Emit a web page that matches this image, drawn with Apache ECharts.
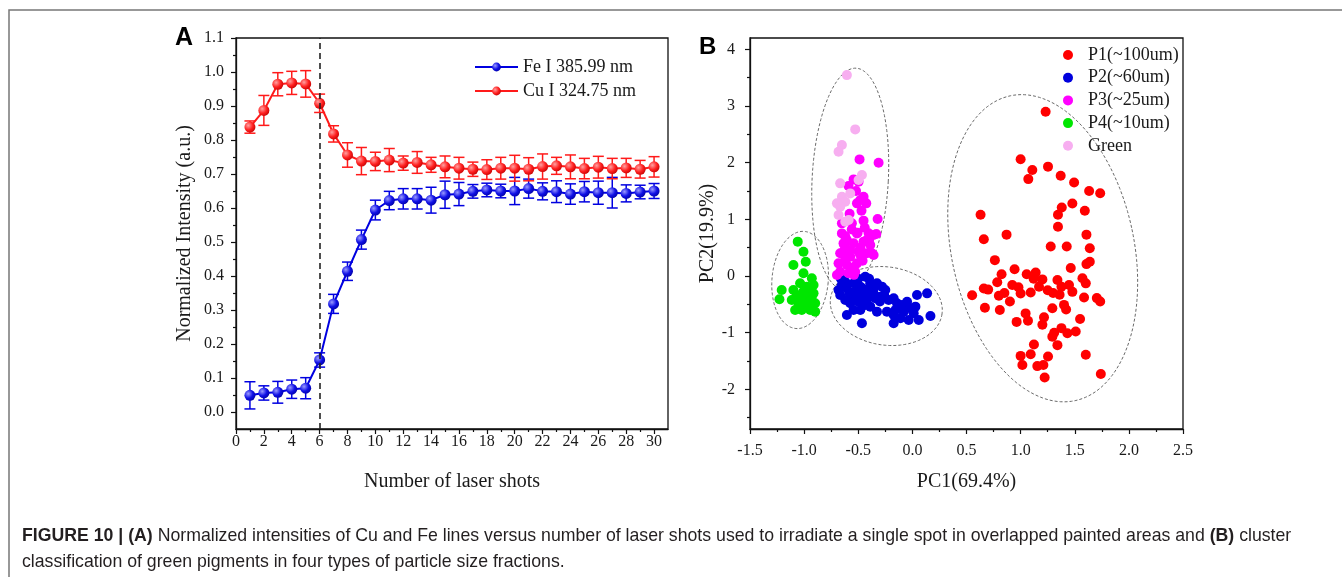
<!DOCTYPE html>
<html>
<head>
<meta charset="utf-8">
<title>Figure 10</title>
<script src="https://cdn.jsdelivr.net/npm/echarts@6/dist/echarts.min.js"></script>
<style>
  html, body { margin: 0; padding: 0; background: #fff; }
  #main { width: 1342px; height: 577px; }
</style>
</head>
<body>
<div id="main"></div>
<script>
// ---- panel A : normalized intensity vs number of laser shots ----
const shots = [1,2,3,4,5,6,7,8,9,10,11,12,13,14,15,16,17,18,19,20,21,22,23,24,25,26,27,28,29,30];
const feMean = [0.049,0.056,0.058,0.067,0.070,0.153,0.318,0.414,0.507,0.594,0.622,0.627,0.627,0.623,0.639,
                0.641,0.649,0.653,0.650,0.650,0.657,0.649,0.648,0.641,0.648,0.645,0.645,0.643,0.647,0.650];
const feErr  = [0.040,0.021,0.032,0.027,0.031,0.021,0.028,0.027,0.028,0.029,0.027,0.030,0.030,0.038,0.040,
                0.034,0.020,0.020,0.020,0.040,0.028,0.025,0.032,0.030,0.030,0.034,0.045,0.025,0.020,0.022];
const cuMean = [0.838,0.887,0.964,0.968,0.965,0.908,0.818,0.756,0.738,0.737,0.741,0.732,0.734,0.727,0.721,
                0.717,0.714,0.713,0.717,0.717,0.714,0.722,0.724,0.721,0.716,0.720,0.716,0.718,0.714,0.721];
const cuErr  = [0.018,0.044,0.034,0.034,0.039,0.027,0.024,0.036,0.040,0.027,0.034,0.021,0.032,0.022,0.032,
                0.032,0.021,0.029,0.032,0.038,0.034,0.037,0.025,0.035,0.030,0.032,0.030,0.028,0.026,0.030];
const dashedShot = 6;

// tick positions panel A
const shotTicks = [0,2,4,6,8,10,12,14,16,18,20,22,24,26,28,30];
const shotMinor = [1,3,5,7,9,11,13,15,17,19,21,23,25,27,29];
const intTicks = [0,0.1,0.2,0.3,0.4,0.5,0.6,0.7,0.8,0.9,1.0,1.1];
const intMinor = [0.05,0.15,0.25,0.35,0.45,0.55,0.65,0.75,0.85,0.95,1.05];

// ---- panel B : PCA scores ----
const p1Points = [[1.231,2.90],[1.00,2.06],[1.108,1.87],[1.071,1.71],[1.253,1.93],[1.370,1.77],[1.494,1.65],[1.633,1.50],
  [1.735,1.46],[0.630,1.08],[1.380,1.21],[1.478,1.28],[1.593,1.15],[1.345,1.08],[1.345,0.87],[0.660,0.65],[0.870,0.73],
  [1.278,0.52],[1.426,0.52],[1.608,0.73],[1.639,0.49],[1.608,0.21],[1.639,0.25],[0.762,0.28],[1.463,0.14],[0.944,0.12],
  [0.824,0.03],[1.056,0.03],[1.139,0.06],[1.201,-0.06],[0.784,-0.11],[0.923,-0.16],[1.000,-0.31],[1.093,-0.29],
  [1.170,-0.19],[1.340,-0.07],[1.377,-0.19],[1.447,-0.16],[1.478,-0.28],[1.571,-0.04],[1.602,-0.13],[1.586,-0.38],
  [1.704,-0.39],[1.735,-0.45],[0.552,-0.34],[0.660,-0.22],[0.799,-0.35],[0.670,-0.56],[0.808,-0.60],[0.901,-0.45],
  [0.980,-0.20],[1.046,-0.66],[0.963,-0.81],[1.068,-0.79],[1.216,-0.73],[1.293,-0.57],[1.401,-0.51],[1.420,-0.59],
  [1.549,-0.76],[1.201,-0.86],[1.293,-1.07],[1.340,-1.22],[1.377,-0.92],[1.432,-1.01],[1.509,-0.98],[1.310,-1.00],
  [1.123,-1.21],[1.000,-1.41],[1.093,-1.38],[1.253,-1.42],[1.016,-1.57],[1.154,-1.59],[1.210,-1.57],[1.222,-1.79],
  [1.602,-1.39],[1.741,-1.73],[1.300,-0.30],[1.360,-0.33],[1.120,-0.05],[1.250,-0.25],[0.850,-0.30],[0.700,-0.24]];
const p2Points = [[-0.651,-0.159],[-0.605,-0.218],[-0.543,-0.129],[-0.481,-0.188],[-0.435,-0.012],[-0.389,-0.129],
  [-0.327,-0.129],[-0.281,-0.188],[-0.250,-0.247],[-0.667,-0.335],[-0.620,-0.423],[-0.559,-0.364],[-0.497,-0.453],
  [-0.451,-0.335],[-0.389,-0.306],[-0.343,-0.394],[-0.296,-0.364],[-0.219,-0.423],[-0.173,-0.394],[-0.142,-0.482],
  [-0.096,-0.511],[-0.049,-0.453],[-0.019,-0.570],[0.028,-0.541],[0.043,-0.335],[0.136,-0.306],[0.012,-0.658],
  [0.059,-0.776],[-0.034,-0.776],[-0.111,-0.747],[-0.173,-0.835],[-0.235,-0.629],[-0.327,-0.629],[-0.389,-0.541],
  [-0.435,-0.511],[-0.481,-0.600],[-0.543,-0.600],[-0.605,-0.688],[-0.466,-0.835],[-0.173,-0.688],[0.167,-0.706],
  [-0.080,-0.629],[-0.157,-0.600],[-0.574,-0.482],[-0.528,-0.276],[-0.404,-0.247],[-0.358,-0.218],[-0.682,-0.247],
  [-0.620,-0.100],[-0.580,-0.300],[-0.520,-0.400],[-0.460,-0.220],[-0.420,-0.420],[-0.360,-0.300],[-0.300,-0.450],
  [-0.260,-0.340],[-0.500,-0.050],[-0.400,-0.050],[-0.660,-0.050]];
const p3Points = [[-0.488,2.058],[-0.312,2.00],[-0.543,1.705],[-0.497,1.664],[-0.590,1.588],[-0.481,1.341],[-0.451,1.400],
  [-0.426,1.282],[-0.512,1.282],[-0.321,1.006],[-0.451,0.977],[-0.559,0.929],[-0.651,0.929],[-0.506,0.765],[-0.404,0.753],
  [-0.333,0.741],[-0.605,0.635],[-0.543,0.577],[-0.451,0.606],[-0.389,0.547],[-0.636,0.430],[-0.574,0.459],[-0.497,0.430],
  [-0.420,0.400],[-0.358,0.371],[-0.651,0.752],[-0.512,0.752],[-0.358,0.723],[-0.636,0.576],[-0.420,0.635],[-0.373,0.400],
  [-0.667,0.400],[-0.574,0.341],[-0.481,0.370],[-0.682,0.223],[-0.605,0.194],[-0.512,0.223],[-0.667,0.076],[-0.590,0.047],
  [-0.528,0.076],[-0.697,0.018],[-0.620,0.300],[-0.550,0.150],[-0.630,0.550],[-0.480,0.500],[-0.440,0.850],[-0.580,1.100],
  [-0.520,1.500],[-0.620,0.700],[-0.400,0.620],[-0.460,0.270],[-0.560,0.820],[-0.470,1.150],[-0.540,0.020]];
const p4Points = [[-1.059,0.606],[-1.006,0.429],[-1.099,0.194],[-0.985,0.253],[-1.006,0.047],[-0.929,-0.041],
  [-1.207,-0.247],[-1.228,-0.411],[-1.099,-0.247],[-1.037,-0.129],[-0.975,-0.188],[-0.913,-0.159],[-1.114,-0.423],
  [-1.052,-0.482],[-0.991,-0.423],[-0.929,-0.364],[-0.898,-0.482],[-1.022,-0.600],[-0.944,-0.600],[-0.898,-0.629],
  [-1.068,-0.335],[-0.960,-0.306],[-1.006,-0.276],[-0.913,-0.306],[-1.083,-0.600],[-0.975,-0.511],[-1.037,-0.394],
  [-0.944,-0.453]];
const greenPoints = [[-0.605,3.545],[-0.528,2.587],[-0.651,2.311],[-0.682,2.193],[-0.667,1.635],[-0.466,1.782],
  [-0.497,1.694],[-0.651,1.400],[-0.620,1.311],[-0.667,1.223],[-0.574,1.458],[-0.682,1.076],[-0.620,0.959],
  [-0.589,0.988],[-0.697,1.282]];
// cluster outlines: centre x, centre y, half width, half height (data units), tilt in degrees
const clusterRings = [[-1.037,-0.07,0.26,0.86,5],[-0.574,1.71,0.352,1.96,3],[-0.241,-0.53,0.52,0.69,8],[1.204,0.49,0.843,2.75,-12]];

// tick positions panel B
const pc1Ticks = [-1.5,-1.0,-0.5,0,0.5,1.0,1.5,2.0,2.5];
const pc1Minor = [-1.25,-0.75,-0.25,0.25,0.75,1.25,1.75,2.25];
const pc2Ticks = [-2,-1,0,1,2,3,4];
const pc2Minor = [-2.5,-1.5,-0.5,0.5,1.5,2.5,3.5];

const serif = "'Liberation Serif', 'Times New Roman', serif";
const sans = "'Liberation Sans', Arial, Helvetica, sans-serif";
const black = '#111';

function ball(base, light, dark) {
  return {
    type: 'radial', x: 0.35, y: 0.35, r: 0.75,
    colorStops: [{ offset: 0, color: light }, { offset: 0.55, color: base }, { offset: 1, color: dark }]
  };
}

// vertical error bar with caps
function errorBar(color) {
  return function (params, api) {
    const x = api.value(0);
    const hi = api.coord([x, api.value(2)]);
    const lo = api.coord([x, api.value(1)]);
    const w = 5.5;
    const st = { stroke: color, lineWidth: 1.5, fill: null };
    return {
      type: 'group',
      children: [
        { type: 'line', shape: { x1: hi[0], y1: hi[1], x2: lo[0], y2: lo[1] }, style: st },
        { type: 'line', shape: { x1: hi[0] - w, y1: hi[1], x2: hi[0] + w, y2: hi[1] }, style: st },
        { type: 'line', shape: { x1: lo[0] - w, y1: lo[1], x2: lo[0] + w, y2: lo[1] }, style: st }
      ]
    };
  };
}

// dashed ellipse around a cluster
function ring(params, api) {
  const c = api.coord([api.value(0), api.value(1)]);
  const rx = api.size([api.value(2), 0])[0];
  const ry = api.size([0, api.value(3)])[1];
  const t = api.value(4) * Math.PI / 180;
  const pts = [];
  for (let i = 0; i <= 160; i++) {
    const a = i / 160 * Math.PI * 2;
    const x = rx * Math.cos(a), y = ry * Math.sin(a);
    pts.push([c[0] + x * Math.cos(t) - y * Math.sin(t), c[1] + x * Math.sin(t) + y * Math.cos(t)]);
  }
  return { type: 'polyline', shape: { points: pts }, style: { stroke: '#6a6a6a', lineWidth: 1, lineDash: [3, 2], fill: null } };
}

function mainAxis(grid, min, max, ticks, fmt, margin, extra) {
  return Object.assign({
    type: 'value', gridIndex: grid, min: min, max: max,
    axisLine: { show: true, onZero: false, lineStyle: { color: black, width: 1.3 } },
    axisTick: { show: true, inside: false, length: 5, customValues: ticks, lineStyle: { color: black, width: 1.2 } },
    axisLabel: { show: true, customValues: ticks, formatter: fmt, margin: margin, color: '#1a1a1a', fontFamily: serif, fontSize: 16 },
    splitLine: { show: false },
    nameLocation: 'middle',
    nameTextStyle: { fontFamily: serif, fontSize: 20, color: '#1a1a1a' }
  }, extra);
}
function minorAxis(grid, min, max, ticks, pos) {
  return {
    type: 'value', gridIndex: grid, min: min, max: max, position: pos,
    axisLine: { show: false, onZero: false },
    axisTick: { show: true, inside: false, length: 3, customValues: ticks, lineStyle: { color: black, width: 1.2 } },
    axisLabel: { show: false },
    splitLine: { show: false }
  };
}

const chart = echarts.init(document.getElementById('main'));

const option = {
  animation: false,
  backgroundColor: '#fff',
  grid: [
    { left: 236, top: 38, width: 432, height: 391, show: true, borderColor: black, borderWidth: 1.3, backgroundColor: 'transparent', outerBoundsMode: 'none' },
    { left: 750, top: 38, width: 433, height: 391, show: true, borderColor: black, borderWidth: 1.3, backgroundColor: 'transparent', outerBoundsMode: 'none' }
  ],
  xAxis: [
    mainAxis(0, 0, 31, shotTicks, v => String(v), 5, { name: 'Number of laser shots', nameGap: 43 }),
    mainAxis(1, -1.5, 2.5, pc1Ticks, v => v.toFixed(1), 14, { name: 'PC1(69.4%)', nameGap: 43 }),
    minorAxis(0, 0, 31, shotMinor, 'bottom'),
    minorAxis(1, -1.5, 2.5, pc1Minor, 'bottom')
  ],
  yAxis: [
    mainAxis(0, -0.05, 1.1, intTicks, v => v.toFixed(1), 12, { name: 'Normalized Intensity (a.u.)', nameGap: 41 }),
    mainAxis(1, -2.7, 4.2, pc2Ticks, v => String(v), 15, { name: 'PC2(19.9%)', nameGap: 30 }),
    minorAxis(0, -0.05, 1.1, intMinor, 'left'),
    minorAxis(1, -2.7, 4.2, pc2Minor, 'left')
  ],
  legend: [
    {
      data: ['Fe I 385.99 nm', 'Cu I 324.75 nm'],
      orient: 'vertical', left: 469, top: 53, itemWidth: 43, itemHeight: 11, itemGap: 6,
      textStyle: { fontFamily: serif, fontSize: 18, color: '#1a1a1a', lineHeight: 18 }
    },
    {
      data: ['P1(~100um)', 'P2(~60um)', 'P3(~25um)', 'P4(~10um)', 'Green'],
      orient: 'vertical', left: 1058, top: 41, icon: 'circle', itemWidth: 30, itemHeight: 10, itemGap: 4.7,
      textStyle: { fontFamily: serif, fontSize: 18, color: '#1a1a1a', lineHeight: 18 }
    }
  ],
  series: [
    {
      name: 'Fe I 385.99 nm', type: 'line', xAxisIndex: 0, yAxisIndex: 0, z: 4,
      data: shots.map((s, i) => [s, feMean[i]]),
      symbol: 'circle', symbolSize: 11,
      lineStyle: { color: '#0000e0', width: 2 },
      itemStyle: { color: ball('#1010e6', '#9a9aff', '#0000a0') },
      markLine: {
        silent: true, symbol: 'none', label: { show: false },
        lineStyle: { color: '#222', width: 1.6, type: [6, 4] },
        data: [{ xAxis: dashedShot }]
      }
    },
    {
      name: 'Cu I 324.75 nm', type: 'line', xAxisIndex: 0, yAxisIndex: 0, z: 4,
      data: shots.map((s, i) => [s, cuMean[i]]),
      symbol: 'circle', symbolSize: 11,
      lineStyle: { color: '#ff1a1a', width: 2 },
      itemStyle: { color: ball('#ff2020', '#ffa0a0', '#c00000') }
    },
    {
      type: 'custom', xAxisIndex: 0, yAxisIndex: 0, z: 3,
      renderItem: errorBar('#0000e0'),
      encode: { x: 0, y: [1, 2] },
      data: shots.map((s, i) => [s, feMean[i] - feErr[i], feMean[i] + feErr[i]])
    },
    {
      type: 'custom', xAxisIndex: 0, yAxisIndex: 0, z: 3,
      renderItem: errorBar('#ff1a1a'),
      encode: { x: 0, y: [1, 2] },
      data: shots.map((s, i) => [s, cuMean[i] - cuErr[i], cuMean[i] + cuErr[i]])
    },
    {
      type: 'custom', xAxisIndex: 1, yAxisIndex: 1, z: 2, silent: true,
      renderItem: ring, encode: { x: 0, y: 1 },
      data: clusterRings
    },
    { name: 'P1(~100um)', type: 'scatter', xAxisIndex: 1, yAxisIndex: 1, symbolSize: 10, itemStyle: { color: '#ff0000', opacity: 1 }, data: p1Points },
    { name: 'P2(~60um)', type: 'scatter', xAxisIndex: 1, yAxisIndex: 1, symbolSize: 10, itemStyle: { color: '#0000dd', opacity: 1 }, data: p2Points },
    { name: 'P3(~25um)', type: 'scatter', xAxisIndex: 1, yAxisIndex: 1, symbolSize: 10, itemStyle: { color: '#ff00ff', opacity: 1 }, data: p3Points },
    { name: 'P4(~10um)', type: 'scatter', xAxisIndex: 1, yAxisIndex: 1, symbolSize: 10, itemStyle: { color: '#00e600', opacity: 1 }, data: p4Points },
    { name: 'Green', type: 'scatter', xAxisIndex: 1, yAxisIndex: 1, symbolSize: 10, itemStyle: { color: '#f7aef0', opacity: 1 }, data: greenPoints }
  ],
  graphic: [
    // figure frame (top + left edge)
    { type: 'polyline', silent: true, shape: { points: [[9, 577], [9, 10], [1342, 10]] }, style: { stroke: '#777', lineWidth: 1.5, fill: null } },
    { type: 'text', left: 175, top: 26, style: { text: 'A', font: 'bold 25px ' + sans, fill: '#000' } },
    { type: 'text', left: 699, top: 35, style: { text: 'B', font: 'bold 24px ' + sans, fill: '#000' } },
    {
      type: 'text', left: 22, top: 527,
      style: {
        text: '{b|FIGURE 10 | (A)} Normalized intensities of Cu and Fe lines versus number of laser shots used to irradiate a single spot in overlapped painted areas and {b|(B)} cluster',
        font: '17.7px ' + sans, fill: '#231f20',
        rich: { b: { fontWeight: 'bold', fontSize: 17.7, fontFamily: sans, fill: '#231f20' } }
      }
    },
    {
      type: 'text', left: 22, top: 553,
      style: { text: 'classification of green pigments in four types of particle size fractions.', font: '17.7px ' + sans, fill: '#231f20' }
    }
  ]
};

chart.setOption(option);
</script>
</body>
</html>
